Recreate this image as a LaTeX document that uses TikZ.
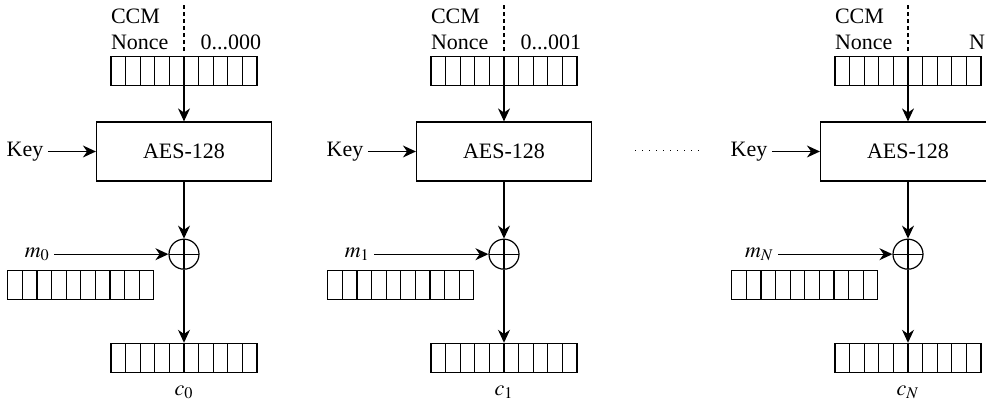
\documentclass[tikz,border=0pt]{standalone}
\usepackage{mathptmx}
\usepackage[no-math]{fontspec}
\setmainfont{Liberation Serif}
\usetikzlibrary{positioning,arrows.meta}

\newcommand{\ctrdots}{...}

\tikzset{
    reg/.style={draw, minimum width=73pt, minimum height=14.5pt, inner sep=0pt,
        path picture={
            \foreach \k in {1,...,9}
                \draw ([xshift=\k*7.3pt]path picture bounding box.south west)
                    -- ([xshift=\k*7.3pt]path picture bounding box.north west);
        }},
    aes/.style={draw, minimum width=87.5pt, minimum height=29.5pt},
    xor/.style={draw, circle, minimum size=15pt, inner sep=0pt,
        path picture={
            \draw (path picture bounding box.north) -- (path picture bounding box.south);
            \draw (path picture bounding box.west) -- (path picture bounding box.east);
        }},
    txt/.style={inner sep=2pt}
}

\begin{document}
\begin{tikzpicture}[
            x=0.5pt, y=-0.5pt,
            line width=0.6pt,
            >={Stealth[length=6.5pt,width=6pt]},
            font=\fontsize{11}{13}\selectfont
        ]
            \useasboundingbox (0,0) rectangle (986,405);

            % One counter block per column
            \foreach \cx/\i/\cnt in {184/0/0\ctrdots000, 504/1/0\ctrdots001, 908/N/N} {
                \node[aes] (aes\i) at (\cx,151.5) {AES-128};
                \node[reg, above=17.5pt of aes\i] (nonce\i) {};
                \node[txt, align=left, above right=1pt and -2pt of nonce\i.north west] (ccm\i) {CCM\\Nonce};
                \node[txt, above left=1pt and -4pt of nonce\i.north east] (ctr\i) {\cnt};
                \draw[dash pattern=on 2pt off 1.5pt] ([yshift=2.5pt]nonce\i.north) -- ([yshift=27pt]nonce\i.north);
                \draw[->] (nonce\i) -- (aes\i);

                \node[txt, left=24pt of aes\i] (key\i) {Key};
                \draw[->] (key\i) -- (aes\i);

                \node[xor, below=28.5pt of aes\i] (xor\i) {};
                \draw[->] (aes\i) -- (xor\i);

                \node[txt, left=57pt of xor\i] (m\i) {$m_\i$};
                \draw[->] (m\i) -- (xor\i);
                \node[reg, anchor=north east] (msg\i) at ([xshift=-7pt]xor\i.west |- xor\i.south) {};

                \node[reg, below=36.5pt of xor\i] (out\i) {};
                \draw[->] (xor\i) -- (out\i);
                \node[txt, below=4pt of out\i] (c\i) {$c_\i$};
            }

            % Dots between the columns
            \coordinate (gapL) at (635,151);
            \coordinate (gapR) at (702,151);
            \draw[line width=0.5pt, dash pattern=on 0.5pt off 3pt] (gapL) -- (gapR);
        \end{tikzpicture}
\end{document}
